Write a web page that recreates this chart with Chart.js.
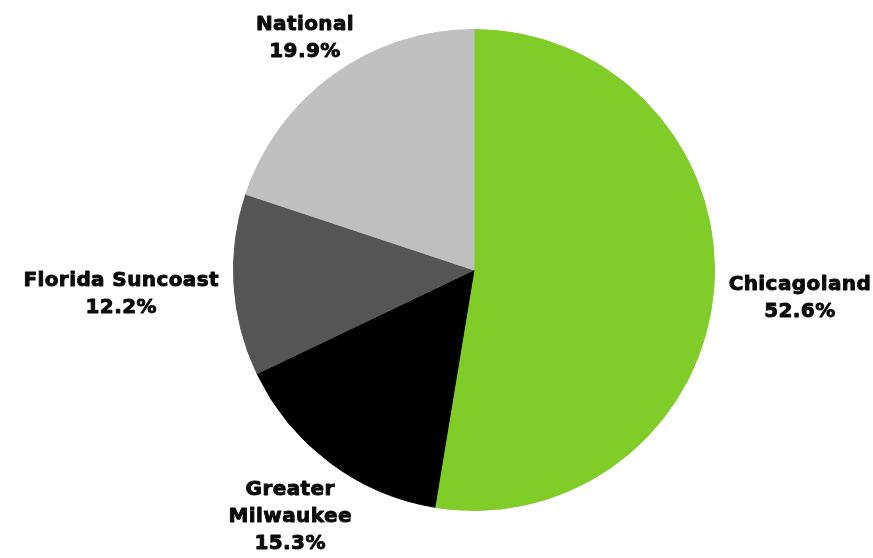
<!DOCTYPE html>
<html>
<head>
<meta charset="utf-8">
<script src="https://cdn.jsdelivr.net/npm/chart.js@4/dist/chart.umd.min.js"></script>
<style>
    html, body { margin: 0; padding: 0; background: #fff; }
    #wrap { width: 873px; height: 558px; position: relative; }
</style>
</head>
<body>
<div id="wrap"><canvas id="regionChart"></canvas></div>
<script>
    const regions = ['Chicagoland', 'Greater Milwaukee', 'Florida Suncoast', 'National'];
    const shares = [52.6, 15.3, 12.2, 19.9];
    const labelLines = [['Chicagoland'], ['Greater', 'Milwaukee'], ['Florida Suncoast'], ['National']];
    const sliceColors = ['#80cc28', '#000000', '#555555', '#c0c0c0'];

    const LABEL_FONT = 'bold 20px "DejaVu Sans", sans-serif';
    const LINE_HEIGHT = 27;
    const CAP_HEIGHT = 14.5;
    const LABEL_GAP = 15;

    // place each label box just outside the slice, along its middle angle
    const outsideLabels = {
        id: 'outsideLabels',
        afterDatasetsDraw(chart) {
            const ctx = chart.ctx;
            const meta = chart.getDatasetMeta(0);
            ctx.save();
            ctx.font = LABEL_FONT;
            ctx.letterSpacing = '0.4px';
            ctx.fillStyle = '#0a0a0a';
            ctx.strokeStyle = '#0a0a0a';
            ctx.lineWidth = 0.9;
            ctx.lineJoin = 'round';
            ctx.textAlign = 'center';
            ctx.textBaseline = 'alphabetic';
            meta.data.forEach((arc, i) => {
                const lines = labelLines[i].concat([shares[i].toFixed(1) + '%']);
                const halfW = Math.max(...lines.map(l => ctx.measureText(l).width)) / 2;
                const halfH = lines.length * LINE_HEIGHT / 2;
                const mid = (arc.startAngle + arc.endAngle) / 2;
                const cos = Math.cos(mid);
                const sin = Math.sin(mid);
                const edge = Math.min(
                    Math.abs(cos) > 1e-6 ? halfW / Math.abs(cos) : Infinity,
                    Math.abs(sin) > 1e-6 ? halfH / Math.abs(sin) : Infinity
                );
                const r = arc.outerRadius + LABEL_GAP + edge;
                const cx = arc.x + r * cos;
                const cy = arc.y + r * sin;
                lines.forEach((line, j) => {
                    const lineMid = cy - halfH + LINE_HEIGHT * (j + 0.5);
                    const y = lineMid + CAP_HEIGHT / 2;
                    ctx.fillText(line, cx, y);
                    ctx.strokeText(line, cx, y);
                });
            });
            ctx.restore();
        }
    };

    new Chart(document.getElementById('regionChart'), {
        type: 'pie',
        data: {
            labels: regions,
            datasets: [
                {
                    data: shares,
                    backgroundColor: sliceColors,
                    borderColor: sliceColors,
                    borderWidth: 1
                }
            ]
        },
        options: {
            responsive: true,
            maintainAspectRatio: false,
            animation: false,
            layout: {
                padding: { top: 29, bottom: 47, left: 100, right: 25 }
            },
            plugins: {
                legend: { display: false },
                tooltip: { enabled: false }
            }
        },
        plugins: [outsideLabels]
    });
</script>
</body>
</html>
